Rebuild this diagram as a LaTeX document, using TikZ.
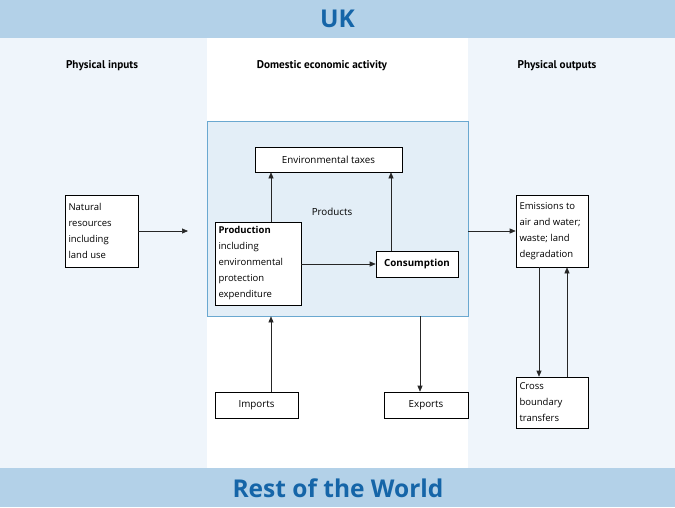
\documentclass[tikz,border=0pt]{standalone}
\usepackage{fontspec}
\setmainfont{Open Sans}
\newfontfamily\headfont{PT Sans}
\newfontfamily\titlefont{Open Sans}
\usetikzlibrary{arrows.meta}
\definecolor{band}{HTML}{B3D1E8}
\definecolor{titleblue}{HTML}{1565A8}
\definecolor{pale}{HTML}{EFF5FB}
\definecolor{boxfill}{HTML}{E3EEF7}
\definecolor{boxedge}{HTML}{6AA8D0}
\tikzset{
  x=1pt, y=-1pt,
  box/.style={draw=black, fill=white, line width=0.6pt, inner xsep=3.5pt, inner ysep=2pt,
    font=\fontsize{9.5}{16}\selectfont, align=flush left},
  cbox/.style={draw=black, fill=white, line width=0.6pt, inner sep=2pt,
    font=\fontsize{9.8}{16}\selectfont, align=center},
  arr/.style={-{Triangle[length=6pt,width=5pt]}, line width=0.6pt, draw=black!85},
  colhead/.style={font=\headfont\bfseries\fontsize{11.2}{13}\selectfont},
  bandtitle/.style={font=\titlefont\bfseries\fontsize{24.5}{28}\selectfont, text=titleblue},
}
\begin{document}
\begin{tikzpicture}
\useasboundingbox (0,0) rectangle (675,507);
% backgrounds
\fill[pale] (0,38) rectangle (207,468);
\fill[white] (207,38) rectangle (468,468);
\fill[pale] (468,38) rectangle (675,468);
\fill[band] (0,0) rectangle (675,38);
\fill[band] (0,468) rectangle (675,507);
\node[bandtitle] (uk) at (337.5,19) {UK};
\node[bandtitle] (row) at (338,488) {Rest of the World};
% column headings
\node[colhead] (h1) at (102,65.5) {Physical inputs};
\node[colhead] (h2) at (322,65.5) {Domestic economic activity};
\node[colhead] (h3) at (557,65.5) {Physical outputs};
% big box
\node[draw=boxedge, fill=boxfill, line width=0.7pt, minimum width=261pt, minimum height=195pt, inner sep=0pt] (big) at (337.5,218.5) {};
% nodes
\node[cbox, minimum width=147pt, minimum height=25pt] (tax) at (328.5,159.5) {Environmental taxes};
\node[box, text width=79pt, minimum height=83pt] (prod) at (258,263.5) {\textbf{Production}\\including\\environmental\\protection\\expenditure};
\node[cbox, minimum width=82pt, minimum height=26pt] (cons) at (417,264) {\textbf{Consumption}};
\node[font=\fontsize{9.8}{11}\selectfont] (prodlab) at (332,212) {Products};
\node[box, text width=66pt, minimum height=72pt] (nat) at (101.5,231) {Natural\\resources\\including\\land use};
\node[box, text width=65pt, minimum height=72pt] (em) at (552,231) {Emissions to\\air and water;\\waste; land\\degradation};
\node[box, text width=65pt, minimum height=51pt] (cross) at (552,402.5) {Cross\\boundary\\transfers};
\node[cbox, minimum width=83pt, minimum height=26pt] (imp) at (256.5,405) {Imports};
\node[cbox, minimum width=84pt, minimum height=26pt] (exp) at (426,405) {Exports};
% guide coordinates
\coordinate (c1) at (271,0);
\coordinate (c2) at (391,0);
\coordinate (c3) at (420,0);
\coordinate (c4) at (539,0);
\coordinate (c5) at (567,0);
\coordinate (inend) at (188,231);
% connectors
\draw[arr] (prod.north -| c1) -- (tax.south -| c1);
\draw[arr] (cons.north -| c2) -- (tax.south -| c2);
\draw[arr] (prod.east |- cons.west) -- (cons.west);
\draw[arr] (nat.east) -- (inend);
\draw[arr] (big.east |- em.west) -- (em.west);
\draw[arr] (imp.north -| c1) -- (big.south -| c1);
\draw[arr] (big.south -| c3) -- (exp.north -| c3);
\draw[arr] (em.south -| c4) -- (cross.north -| c4);
\draw[arr] (cross.north -| c5) -- (em.south -| c5);
\end{tikzpicture}
\end{document}
